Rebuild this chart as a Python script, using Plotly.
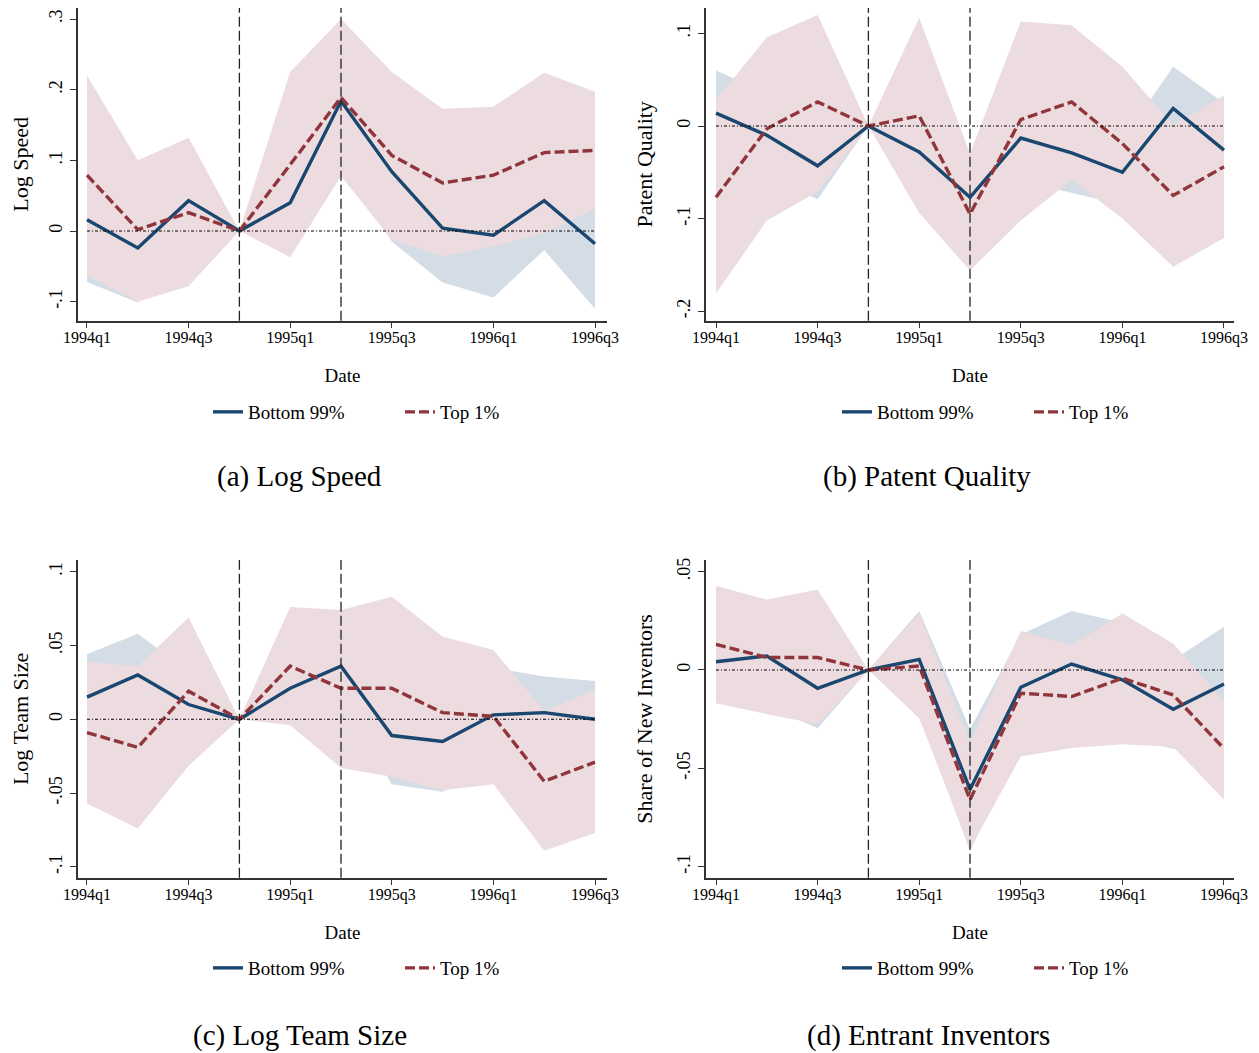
import plotly.graph_objects as go

# ---------------- data ----------------
quarters = ["1994q1", "1994q2", "1994q3", "1994q4", "1995q1", "1995q2",
            "1995q3", "1995q4", "1996q1", "1996q2", "1996q3"]
tick_quarters = ["1994q1", "1994q3", "1995q1", "1995q3", "1996q1", "1996q3"]
event_quarters = ["1994q4", "1995q2"]
series_names = ["Bottom 99%", "Top 1%"]

# (a) Log Speed
speed_bottom = [0.016, -0.024, 0.043, 0, 0.040, 0.184, 0.084, 0.004, -0.006, 0.043, -0.018]
speed_bottom_lo = [-0.072, -0.101, -0.037, 0, -0.020, 0.104, -0.015, -0.073, -0.094, -0.027, -0.110]
speed_bottom_hi = [0.104, 0.053, 0.123, 0, 0.100, 0.264, 0.183, 0.081, 0.082, 0.113, 0.074]
speed_top = [0.079, 0.002, 0.026, 0, 0.094, 0.189, 0.107, 0.068, 0.079, 0.111, 0.114]
speed_top_lo = [-0.0625, -0.100, -0.078, 0, -0.037, 0.078, -0.0125, -0.036, -0.022, -0.003, 0.031]
speed_top_hi = [0.220, 0.100, 0.132, 0, 0.225, 0.300, 0.225, 0.173, 0.176, 0.224, 0.197]

# (b) Patent Quality
quality_bottom = [0.014, -0.010, -0.043, 0, -0.028, -0.077, -0.013, -0.029, -0.050, 0.019, -0.026]
quality_bottom_lo = [-0.032, -0.055, -0.079, 0, -0.070, -0.120, -0.060, -0.072, -0.085, -0.026, -0.077]
quality_bottom_hi = [0.060, 0.035, -0.007, 0, 0.014, -0.035, 0.035, 0.014, -0.015, 0.064, 0.025]
quality_top = [-0.077, -0.003, 0.026, 0, 0.011, -0.095, 0.007, 0.026, -0.019, -0.075, -0.044]
quality_top_lo = [-0.181, -0.102, -0.071, 0, -0.094, -0.156, -0.102, -0.058, -0.100, -0.152, -0.121]
quality_top_hi = [0.028, 0.096, 0.120, 0, 0.117, -0.030, 0.113, 0.109, 0.064, 0.001, 0.033]

# (c) Log Team Size
team_bottom = [0.015, 0.030, 0.010, 0, 0.021, 0.036, -0.011, -0.015, 0.003, 0.0045, 0.000]
team_bottom_lo = [-0.014, 0.002, -0.012, 0, 0.001, 0.014, -0.044, -0.049, -0.029, -0.020, -0.026]
team_bottom_hi = [0.044, 0.058, 0.032, 0, 0.041, 0.058, 0.022, 0.019, 0.035, 0.029, 0.026]
team_top = [-0.009, -0.019, 0.019, 0, 0.036, 0.021, 0.021, 0.0045, 0.002, -0.042, -0.029]
team_top_lo = [-0.057, -0.074, -0.0315, 0, -0.004, -0.033, -0.039, -0.048, -0.044, -0.089, -0.077]
team_top_hi = [0.039, 0.036, 0.069, 0, 0.076, 0.074, 0.083, 0.056, 0.047, 0.0056, 0.020]

# (d) Entrant Inventors
entrant_bottom = [0.0042, 0.0071, -0.0093, 0, 0.0054, -0.0608, -0.0088, 0.003, -0.005, -0.020, -0.0071]
entrant_bottom_lo = [-0.015, -0.018, -0.0296, 0, -0.022, -0.092, -0.040, -0.024, -0.034, -0.040, -0.036]
entrant_bottom_hi = [0.024, 0.032, 0.011, 0, 0.030, -0.030, 0.018, 0.030, 0.024, 0.005, 0.022]
entrant_top = [0.013, 0.0064, 0.0063, 0, 0.002, -0.066, -0.0118, -0.0135, -0.0042, -0.0127, -0.040]
entrant_top_lo = [-0.0169, -0.0225, -0.0275, 0, -0.0245, -0.091, -0.044, -0.0397, -0.0377, -0.039, -0.066]
entrant_top_hi = [0.0427, 0.0358, 0.0409, 0, 0.0287, -0.037, 0.0198, 0.0127, 0.0287, 0.0135, -0.016]

# ---------------- style / layout ----------------
FONT = "Liberation Serif"
BLUE = "#1a476f"
RED = "#90353b"
BLUE_BAND = "#d4dce5"
RED_BAND = "#ecdcdf"
AXIS = "#333333"

# the page has an 8px body margin; figure is sized to fill the rest of the window
W, H, OFF = 1251, 1045, 8


def px(X):
    return (X - OFF) / W


def py(Y):
    return 1 - (Y - OFF) / H


TOP_ROW = [py(320.7), 1.0]
BOT_ROW = [py(877.7), py(560)]
LEFT_COL = [px(78), px(607)]
RIGHT_COL = [px(706), px(1234)]

panels = [
    dict(caption="(a) Log Speed", ytitle="Log Speed",
         b=(speed_bottom, speed_bottom_lo, speed_bottom_hi),
         t=(speed_top, speed_top_lo, speed_top_hi),
         yticks=[-0.1, 0, 0.1, 0.2, 0.3], ytext=["-.1", "0", ".1", ".2", ".3"],
         yrange=[-0.1269, 0.3156], xrange=[-0.177, 10.236],
         xdom=LEFT_COL, ydom=TOP_ROW,
         legx=px(208), legy=py(412), capx=px(299), capy=py(477)),
    dict(caption="(b) Patent Quality", ytitle="Patent Quality",
         b=(quality_bottom, quality_bottom_lo, quality_bottom_hi),
         t=(quality_top, quality_top_lo, quality_top_hi),
         yticks=[-0.2, -0.1, 0, 0.1], ytext=["-.2", "-.1", "0", ".1"],
         yrange=[-0.2103, 0.1275], xrange=[-0.197, 10.197],
         xdom=RIGHT_COL, ydom=TOP_ROW,
         legx=px(837), legy=py(412), capx=px(927), capy=py(477)),
    dict(caption="(c) Log Team Size", ytitle="Log Team Size",
         b=(team_bottom, team_bottom_lo, team_bottom_hi),
         t=(team_top, team_top_lo, team_top_hi),
         yticks=[-0.1, -0.05, 0, 0.05, 0.1], ytext=["-.1", "-.05", "0", ".05", ".1"],
         yrange=[-0.1073, 0.1079], xrange=[-0.177, 10.236],
         xdom=LEFT_COL, ydom=BOT_ROW,
         legx=px(208), legy=py(968), capx=px(300), capy=py(1035)),
    dict(caption="(d) Entrant Inventors", ytitle="Share of New Inventors",
         b=(entrant_bottom, entrant_bottom_lo, entrant_bottom_hi),
         t=(entrant_top, entrant_top_lo, entrant_top_hi),
         yticks=[-0.1, -0.05, 0, 0.05], ytext=["-.1", "-.05", "0", ".05"],
         yrange=[-0.1056, 0.0559], xrange=[-0.197, 10.197],
         xdom=RIGHT_COL, ydom=BOT_ROW,
         legx=px(837), legy=py(968), capx=px(928), capy=py(1035)),
]

fig = go.Figure()
layout = dict(
    width=W, height=H,
    margin=dict(l=0, r=0, t=0, b=0, pad=0, autoexpand=False),
    paper_bgcolor="white", plot_bgcolor="white",
    font=dict(family=FONT, color="black"),
    showlegend=True,
    shapes=[], annotations=[],
)

for i, p in enumerate(panels):
    n = "" if i == 0 else str(i + 1)
    xa, ya = "x" + n, "y" + n
    leg = "legend" + n
    bmid, blo, bhi = p["b"]
    tmid, tlo, thi = p["t"]

    # confidence bands (blue behind, red on top)
    fig.add_trace(go.Scatter(x=quarters, y=blo, xaxis=xa, yaxis=ya, mode="lines",
                             line=dict(width=0, color=BLUE_BAND), showlegend=False, hoverinfo="skip"))
    fig.add_trace(go.Scatter(x=quarters, y=bhi, xaxis=xa, yaxis=ya, mode="lines",
                             line=dict(width=0, color=BLUE_BAND), fill="tonexty",
                             fillcolor=BLUE_BAND, showlegend=False, hoverinfo="skip"))
    fig.add_trace(go.Scatter(x=quarters, y=tlo, xaxis=xa, yaxis=ya, mode="lines",
                             line=dict(width=0, color=RED_BAND), showlegend=False, hoverinfo="skip"))
    fig.add_trace(go.Scatter(x=quarters, y=thi, xaxis=xa, yaxis=ya, mode="lines",
                             line=dict(width=0, color=RED_BAND), fill="tonexty",
                             fillcolor=RED_BAND, showlegend=False, hoverinfo="skip"))
    # point estimates
    fig.add_trace(go.Scatter(x=quarters, y=bmid, xaxis=xa, yaxis=ya, mode="lines",
                             name=series_names[0], legend=leg,
                             line=dict(color=BLUE, width=3.4)))
    fig.add_trace(go.Scatter(x=quarters, y=tmid, xaxis=xa, yaxis=ya, mode="lines",
                             name=series_names[1], legend=leg,
                             line=dict(color=RED, width=3.4, dash="10px,4px")))

    layout["xaxis" + n] = dict(
        domain=p["xdom"], anchor=ya, type="category", categoryorder="array",
        categoryarray=quarters, range=p["xrange"],
        tickmode="array", tickvals=tick_quarters, ticktext=tick_quarters,
        ticks="outside", ticklen=6, tickwidth=1.3, tickcolor=AXIS, ticklabelstandoff=-5,
        ticklabeloverflow="allow",
        showline=True, linecolor=AXIS, linewidth=1.5, showgrid=False, zeroline=False,
        tickfont=dict(family=FONT, size=16),
        title=dict(text="Date", font=dict(family=FONT, size=19), standoff=23),
        automargin=False,
    )
    layout["yaxis" + n] = dict(
        domain=p["ydom"], anchor=xa, range=p["yrange"],
        tickmode="array", tickvals=p["yticks"], ticktext=p["ytext"], tickangle=-90,
        ticks="outside", ticklen=6, tickwidth=1.3, tickcolor=AXIS, ticklabelstandoff=1,
        ticklabeloverflow="allow",
        showline=True, linecolor=AXIS, linewidth=1.5, showgrid=False, zeroline=False,
        tickfont=dict(family=FONT, size=18),
        title=dict(text=p["ytitle"], font=dict(family=FONT, size=22), standoff=15),
        automargin=False,
    )
    layout[leg] = dict(
        orientation="h", x=p["legx"], y=p["legy"], xanchor="left", yanchor="middle",
        xref="paper", yref="paper", font=dict(family=FONT, size=19),
        bgcolor="rgba(0,0,0,0)", itemwidth=30, entrywidth=147, entrywidthmode="pixels",
        traceorder="normal",
    )
    # zero reference line
    layout["shapes"].append(dict(type="line", xref=xa, yref=ya, x0=quarters[0], x1=quarters[-1],
                                 y0=0, y1=0, line=dict(color="black", width=1.1, dash="3px,2px,1px,2px"),
                                 layer="above"))
    # event lines
    for q in event_quarters:
        layout["shapes"].append(dict(type="line", xref=xa, yref=ya + " domain", x0=q, x1=q,
                                     y0=0, y1=1, line=dict(color="#222222", width=1.3, dash="10px,4px"),
                                     layer="above"))
    layout["annotations"].append(dict(text=p["caption"], x=p["capx"], y=p["capy"], xref="paper",
                                      yref="paper", showarrow=False, xanchor="center", yanchor="middle",
                                      font=dict(family=FONT, size=29, color="black")))

fig.update_layout(**layout)
fig.write_html("out.html")
